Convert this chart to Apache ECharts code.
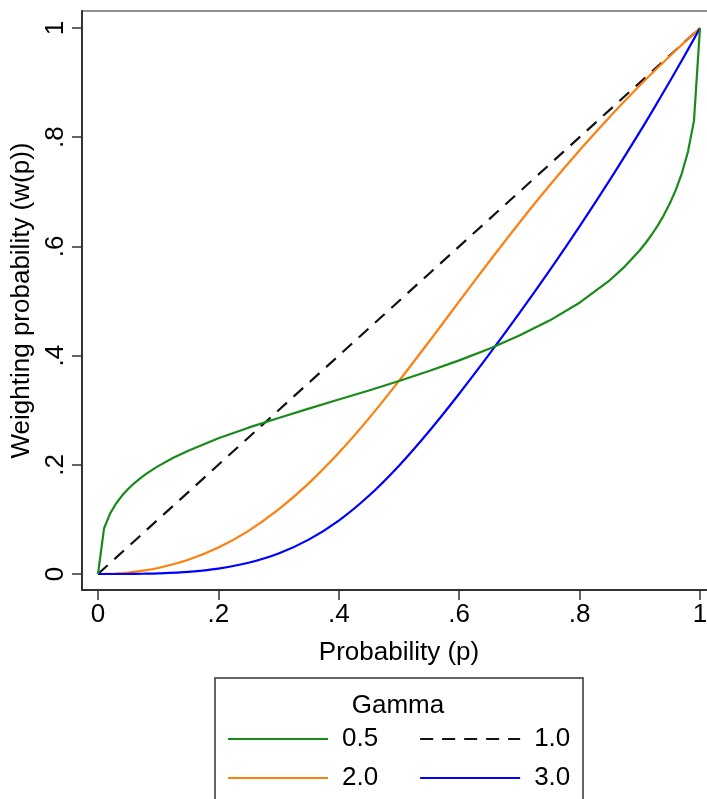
<!DOCTYPE html>
<html>
<head>
<meta charset="utf-8">
<script src="https://cdn.jsdelivr.net/npm/echarts@6/dist/echarts.min.js"></script>
<style>html,body{margin:0;padding:0;background:#fff}#c{width:707px;height:799px}</style>
</head>
<body>
<div id="c"></div>
<script>
// Probability grid (x)
const probs = [0, 0.01, 0.02, 0.03, 0.05, 0.075, 0.1, 0.15, 0.2, 0.25, 0.3, 0.35, 0.4, 0.45, 0.5,
  0.55, 0.6, 0.65, 0.7, 0.75, 0.8, 0.85, 0.9, 0.925, 0.95, 0.97, 0.98, 0.99, 1];
// Finer probability grid for the gamma = 0.5 curve
const probsG = [0, 0.01, 0.02, 0.03, 0.04, 0.05, 0.06, 0.07, 0.08, 0.09, 0.1, 0.125, 0.15, 0.2, 0.25, 0.3, 0.35, 0.4, 0.45, 0.5,
  0.55, 0.6, 0.65, 0.7, 0.75, 0.8, 0.85, 0.875, 0.9, 0.91, 0.92, 0.93, 0.94, 0.95, 0.96, 0.97, 0.98, 0.99, 1];
// Weighting probability w(p) per gamma
const w05 = [0, 0.0834, 0.1105, 0.1291, 0.1437, 0.1557, 0.1661, 0.1752, 0.1834, 0.1908, 0.1976, 0.2128, 0.2259, 0.2485, 0.2680, 0.2858, 0.3028, 0.3195, 0.3362, 0.3536,
  0.3717, 0.3912, 0.4126, 0.4366, 0.4641, 0.4969, 0.5379, 0.5630, 0.5929, 0.6067, 0.6218, 0.6385, 0.6573, 0.6788, 0.7039, 0.7344, 0.7734, 0.8298, 1];
const w10 = [0, 0.01, 0.02, 0.03, 0.05, 0.075, 0.1, 0.15, 0.2, 0.25, 0.3, 0.35, 0.4, 0.45, 0.5,
  0.55, 0.6, 0.65, 0.7, 0.75, 0.8, 0.85, 0.9, 0.925, 0.95, 0.97, 0.98, 0.99, 1];
const w20 = [0, 0.0001, 0.0004, 0.0009, 0.0026, 0.0061, 0.0110, 0.0261, 0.0485, 0.0791, 0.1182, 0.1659, 0.2219, 0.2850, 0.3536,
  0.4257, 0.4992, 0.5723, 0.6434, 0.7115, 0.7761, 0.8371, 0.8945, 0.9220, 0.9487, 0.9695, 0.9798, 0.9900, 1];
const w30 = [0, 0.0000, 0.0000, 0.0000, 0.0001, 0.0005, 0.0011, 0.0040, 0.0099, 0.0206, 0.0376, 0.0629, 0.0978, 0.1432, 0.1984,
  0.2615, 0.3302, 0.4026, 0.4778, 0.5557, 0.6367, 0.7212, 0.8096, 0.8555, 0.9025, 0.9409, 0.9604, 0.9801, 1];
const seriesNames = ['0.5', '1.0', '2.0', '3.0'];
const tickValues = [0, 0.2, 0.4, 0.6, 0.8, 1];

const FONT = "'Liberation Sans', Arial, sans-serif";
const fmt = v => (v === 0 ? '0' : v === 1 ? '1' : String(+v.toFixed(1)).replace(/^0/, ''));
const pairs = (xs, arr) => xs.map((p, i) => [p, arr[i]]);

const chart = echarts.init(document.getElementById('c'), null, {renderer: 'canvas'});
const axisCommon = {
  type: 'value',
  splitLine: {show: false},
  axisLine: {show: true, onZero: false, lineStyle: {color: '#333', width: 2}},
  axisTick: {show: true, length: 10, customValues: tickValues, lineStyle: {color: '#333', width: 1.5}},
  nameLocation: 'middle',
  nameTextStyle: {fontFamily: FONT, fontSize: 26, color: '#000'}
};
const legendCommon = {
  left: 227, itemWidth: 100, itemHeight: 20, itemGap: 41, orient: 'horizontal', padding: 0,
  itemStyle: {opacity: 0},
  textStyle: {fontFamily: FONT, fontSize: 26, color: '#000', padding: [0, 0, 0, 9]}
};
chart.setOption({
  animation: false,
  backgroundColor: '#fff',
  grid: {left: 82, top: 11, width: 634, height: 579, show: true, borderColor: '#222', borderWidth: 1,
    containLabel: false, outerBoundsMode: 'none'},
  xAxis: Object.assign({}, axisCommon, {
    min: -0.0266, max: 1.0266,
    name: 'Probability (p)', nameGap: 50,
    axisLabel: {customValues: tickValues, formatter: fmt, margin: 12, fontFamily: FONT, fontSize: 26, color: '#000'}
  }),
  yAxis: Object.assign({}, axisCommon, {
    min: -0.0293, max: 1.0311,
    name: 'Weighting probability (w(p))', nameGap: 31, nameRotate: 90,
    axisLabel: {customValues: tickValues, formatter: fmt, rotate: 90, margin: 13, fontFamily: FONT, fontSize: 26, color: '#000'}
  }),
  legend: [
    Object.assign({}, legendCommon, {data: [seriesNames[0], seriesNames[1]], top: 726}),
    Object.assign({}, legendCommon, {data: [seriesNames[2], seriesNames[3]], top: 765})
  ],
  graphic: [
    {type: 'rect', shape: {x: 215, y: 678, width: 368, height: 140}, style: {fill: 'none', stroke: '#333', lineWidth: 1.5}, silent: true},
    {type: 'text', x: 398, y: 706, style: {text: 'Gamma', font: '26px ' + FONT, fill: '#000', textAlign: 'center', textVerticalAlign: 'middle'}, silent: true}
  ],
  series: [
    {name: seriesNames[0], type: 'line', data: pairs(probsG, w05), showSymbol: false, symbol: 'none', lineStyle: {color: '#1a8a1a', width: 2.2}, itemStyle: {color: '#1a8a1a'}, z: 4},
    {name: seriesNames[1], type: 'line', data: pairs(probs, w10), showSymbol: false, symbol: 'none', lineStyle: {color: '#111', width: 2.2, type: [13, 9]}, itemStyle: {color: '#111'}, z: 3},
    {name: seriesNames[2], type: 'line', data: pairs(probs, w20), showSymbol: false, symbol: 'none', smooth: 0.3, lineStyle: {color: '#ff7f0e', width: 2.2}, itemStyle: {color: '#ff7f0e'}, z: 3},
    {name: seriesNames[3], type: 'line', data: pairs(probs, w30), showSymbol: false, symbol: 'none', smooth: 0.3, lineStyle: {color: '#0000ff', width: 2.2}, itemStyle: {color: '#0000ff'}, z: 3}
  ]
});
</script>
</body>
</html>
